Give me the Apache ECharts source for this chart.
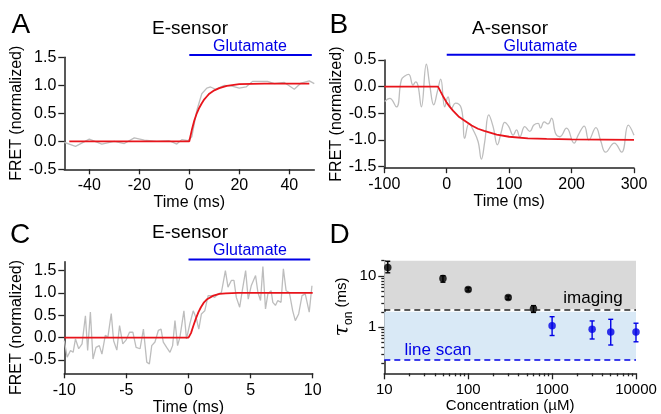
<!DOCTYPE html>
<html><head><meta charset="utf-8">
<script src="https://cdn.jsdelivr.net/npm/echarts@6/dist/echarts.min.js"></script>
<style>html,body{margin:0;padding:0;background:#fff}#c{width:661px;height:414px}</style>
</head><body><div id="c"></div>
<script>
// ---------------- Panel A (E-sensor, imaging) ----------------
const aTime = [-50,-45.5,-40,-35,-30,-26,-22,-18,-13,-8,-5,-3,-0.5,1,3,5,7,8.5,10.5,14,16.7,20,22.7,25.3,31.3,34,38,42,44.7,48,50];
const aVal  = [-0.02,-0.09,0.04,-0.05,0.0,-0.04,0.06,0.02,0.0,0.01,-0.05,0.03,0.01,0.08,0.55,0.85,0.95,0.97,0.93,1.0,0.99,0.95,0.97,1.07,1.07,1.03,1.05,0.93,1.04,1.08,1.03];
const aFitTime = [-48,0,1,2,3,4,5,6,7,8,10,12,15,20,30,48];
const aFitVal  = [0,0,0.2,0.37,0.5,0.6,0.68,0.75,0.8,0.85,0.91,0.95,0.99,1.02,1.03,1.03];
const aGlutTime = [0, 49];
const aXTicks = [-40,-20,0,20,40];
const aYTicks = [-0.5,0,0.5,1,1.5];

// ---------------- Panel B (A-sensor) ----------------
const bTime = [-99.4,-91.3,-80.6,-72.6,-67,-60.9,-53.9,-49.7,-46,-40.6,-32.6,-27.2,-20.8,-14.9,-9.6,-3.2,2.1,7.5,13.9,23.5,28.8,35.8,42.2,50.2,55.5,60.9,67.3,74.3,81.2,87.6,93,99.4,106.4,111.8,117.1,125.1,133.1,139.6,146.5,150.3,156.1,162.5,167.9,174.8,181.2,191.9,204.2,210.6,220.3,227.7,238.9,247,254.5,268.4,280.2,290.9,300];
const bVal  = [-0.28,-0.22,-0.38,0.13,0.2,0.23,0.03,0.09,0.02,-0.38,0.42,0.03,-0.34,-0.09,0.14,-0.38,-0.19,-0.41,-0.31,-0.41,-0.97,-0.69,-0.81,-1.03,-1.36,-1.03,-0.53,-0.75,-1.09,-0.84,-0.67,-0.75,-0.91,-0.81,-0.94,-0.75,-0.84,-0.72,-0.69,-0.78,-0.66,-0.7,-0.59,-0.89,-0.94,-0.78,-1.06,-0.91,-0.74,-1.0,-0.77,-1.03,-1.23,-1.06,-1.23,-0.72,-0.91];
const bFitTime = [-100,-14,-10,-5,0,5,10,20,30,40,50,60,80,100,130,160,200,300];
const bFitVal  = [0,0,-0.09,-0.2,-0.3,-0.38,-0.45,-0.57,-0.65,-0.73,-0.79,-0.83,-0.9,-0.94,-0.97,-0.98,-0.99,-1.0];
const bGlutTime = [0, 302];
const bXTicks = [-100,0,100,200,300];
const bYTicks = [-1.5,-1,-0.5,0,0.5];

// ---------------- Panel C (E-sensor, line scan) ----------------
const cTime = [-10.0,-9.77,-9.5,-9.29,-9.1,-8.84,-8.57,-8.3,-8.12,-7.9,-7.69,-7.45,-7.18,-6.97,-6.7,-6.49,-6.22,-6.03,-5.77,-5.55,-5.29,-5.02,-4.75,-4.48,-4.22,-3.9,-3.63,-3.36,-3.15,-2.96,-2.7,-2.43,-2.21,-2.03,-1.76,-1.49,-1.28,-1.09,-0.88,-0.69,-0.37,-0.16,0.11,0.38,0.64,0.83,1.04,1.31,1.58,1.85,2.11,2.38,2.65,2.97,3.18,3.45,3.66,3.85,4.12,4.33,4.6,4.81,5.05,5.4,5.59,5.8,5.99,6.2,6.39,6.65,6.79,7.0,7.19,7.45,7.64,7.86,8.12,8.39,8.6,8.87,9.14,9.4,9.72,9.94];
const cVal  = [-0.07,-0.44,-0.29,-0.33,-0.03,-0.25,-0.14,0.49,-0.29,0.57,-0.48,-0.22,-0.18,-0.37,0.05,0.01,0.54,-0.07,-0.28,0.27,-0.14,-0.05,0.12,0.12,-0.22,-0.25,0.19,-0.55,-0.59,-0.18,-0.1,0.16,0.19,-0.1,-0.22,-0.33,-0.18,0.38,-0.18,0.01,0.6,-0.03,0.31,0.6,0.42,0.19,0.53,0.6,0.94,0.94,0.9,0.98,1.01,1.5,1.13,1.28,1.28,0.9,0.68,1.05,1.5,0.86,1.16,1.39,1.01,0.83,1.59,0.64,0.98,1.05,0.79,0.72,0.83,0.79,1.54,1.05,1.01,0.6,0.38,0.53,0.94,0.98,0.57,1.16];
const cFitTime = [-10,0,0.2,0.4,0.6,0.8,1.0,1.25,1.5,2,2.5,3,4,10];
const cFitVal  = [0,0,0.1,0.27,0.43,0.57,0.68,0.79,0.86,0.94,0.98,0.99,1.0,1.0];
const cGlutTime = [0, 9.8];
const cXTicks = [-10,-5,0,5,10];
const cYTicks = [-0.5,0,0.5,1,1.5];

// ---------------- Panel D (tau_on vs concentration) ----------------
const imagingConc = [11, 50, 100, 300, 600];
const imagingTau  = [14.8, 9.0, 5.5, 3.8, 2.3];
const imagingLow  = [11.6, 7.6, 5.1, 3.5, 1.95];
const imagingHigh = [19.5, 10.2, 5.9, 4.1, 2.65];
const scanConc = [1000, 3000, 5000, 10000];
const scanTau  = [1.07, 0.91, 0.81, 0.81];
const scanLow  = [0.69, 0.59, 0.45, 0.52];
const scanHigh = [1.61, 1.33, 1.43, 1.2];
const imagingLimit = 2.24;     // dashed "imaging" limit (ms)
const lineScanTop = 2.0;       // top of line-scan band (ms)
const lineScanLimit = 0.23;    // dashed "line scan" limit (ms)
const dXRange = [10, 10000];
const dYRange = [0.126, 20];
const dXMajor = [10, 100, 1000, 10000];
const dXMinor = [20,30,40,50,60,70,80,90,200,300,400,500,600,700,800,900,2000,3000,4000,5000,6000,7000,8000,9000];
const dYMajor = [1, 10];
const dYMinor = [0.2,0.3,0.4,0.5,0.6,0.7,0.8,0.9,2,3,4,5,6,7,8,9,20];

// ---------------- chart ----------------
const FONT = '"Liberation Sans", Arial, Helvetica, sans-serif';
const BLUE = '#0000e6';
const RED = '#e8141b';
const GRAY = '#bdbdbd';
const AX = '#222';
const LG = v => Math.log10(v);
const zip = (xs, ys) => { const n = Math.min(xs.length, ys.length), o = []; for (let i = 0; i < n; i++) o.push([xs[i], ys[i]]); return o; };
const fix1 = v => v.toFixed(1);

function axis(gridIndex, min, max, ticks, fmt, o) {
  o = o || {};
  return {
    type: 'value', gridIndex, min, max, position: o.position,
    splitLine: { show: false },
    axisLine: { show: o.line !== false, onZero: false, lineStyle: { color: AX, width: 1.5 } },
    axisTick: { show: true, inside: false, length: o.tickLen || 5, customValues: ticks, lineStyle: { color: AX, width: 1.3 } },
    axisLabel: { show: o.labels !== false, color: '#000', fontSize: o.fontSize || 16, fontFamily: FONT, margin: o.margin || 8, customValues: ticks, formatter: fmt },
    name: o.name || '', nameLocation: 'middle', nameGap: o.nameGap || 20,
    nameTextStyle: Object.assign({ color: '#000', fontSize: o.nameSize || 16, fontFamily: FONT }, o.nameStyle || {})
  };
}

function errRender(color) {
  return function (params, api) {
    const x = api.value(0), lo = api.value(1), hi = api.value(2);
    const p1 = api.coord([x, lo]), p2 = api.coord([x, hi]);
    const w = 2.5, st = { stroke: color, lineWidth: 1.4 };
    return { type: 'group', children: [
      { type: 'line', shape: { x1: p1[0], y1: p1[1], x2: p2[0], y2: p2[1] }, style: st },
      { type: 'line', shape: { x1: p1[0] - w, y1: p1[1], x2: p1[0] + w, y2: p1[1] }, style: st },
      { type: 'line', shape: { x1: p2[0] - w, y1: p2[1], x2: p2[0] + w, y2: p2[1] }, style: st }
    ]};
  };
}

function txt(s, x, y, size, color, align, extra) {
  return { type: 'text', x, y, z: 100, silent: true, style: Object.assign({
    text: s, fontSize: size, fontFamily: FONT, fill: color,
    align: align, textAlign: align, verticalAlign: 'middle', textVerticalAlign: 'middle' }, extra || {}) };
}

const traceLine = (xi, data, color, width, smooth) => ({
  type: 'line', xAxisIndex: xi, yAxisIndex: xi, data, showSymbol: false, symbol: 'none',
  smooth: smooth || false, lineStyle: { color, width }, itemStyle: { color }, animation: false, clip: false, silent: true
});

const glutLevelA = 1.54, glutLevelB = 0.6, glutLevelC = 1.75;

const option = {
  animation: false,
  backgroundColor: '#fff',
  grid: [
    { left: 64.3, top: 57.3, width: 250, height: 112, containLabel: false, outerBoundsMode: 'none' },
    { left: 384.3, top: 60, width: 249.7, height: 108.2, containLabel: false, outerBoundsMode: 'none' },
    { left: 64.3, top: 261.7, width: 248.4, height: 111.6, containLabel: false, outerBoundsMode: 'none' },
    { left: 384.3, top: 260.7, width: 251.7, height: 112.6, containLabel: false, outerBoundsMode: 'none' }
  ],
  xAxis: [
    axis(0, -50, 50, aXTicks, v => String(v), { position: 'bottom', name: 'Time (ms)', nameGap: 22, tickLen: 5 }),
    axis(1, -100, 300, bXTicks, v => String(v), { position: 'bottom', name: 'Time (ms)', nameGap: 22, tickLen: 5 }),
    axis(2, -10, 10, cXTicks, v => String(v), { position: 'bottom', name: 'Time (ms)', nameGap: 23, tickLen: 5, margin: 9 }),
    axis(3, LG(dXRange[0]), LG(dXRange[1]), dXMajor.map(LG), v => String(Math.round(Math.pow(10, v))),
      { position: 'bottom', name: 'Concentration (µM)', nameGap: 23, nameSize: 15, fontSize: 15, tickLen: 6, margin: 9 }),
    axis(3, LG(dXRange[0]), LG(dXRange[1]), dXMinor.map(LG), v => '', { position: 'bottom', line: false, labels: false, tickLen: 3 })
  ],
  yAxis: [
    axis(0, -0.5, 1.5, aYTicks, fix1, { position: 'left', name: 'FRET (normalized)', nameGap: 38, tickLen: 6 }),
    axis(1, -1.53, 0.5, bYTicks, fix1, { position: 'left', name: 'FRET (normalized)', nameGap: 38, tickLen: 6 }),
    axis(2, -0.8, 1.7, cYTicks, fix1, { position: 'left', name: 'FRET (normalized)', nameGap: 38, tickLen: 6, nameStyle: { padding: [0, 20, 0, 0] } }),
    axis(3, LG(dYRange[0]), LG(dYRange[1]), dYMajor.map(LG), v => String(Math.round(Math.pow(10, v))),
      { position: 'left', name: '{t|τ}{s|on}{r| (ms)}', nameGap: 30, fontSize: 15, tickLen: 6,
        nameStyle: { padding: [0, 0, 0, 20], rich: {
          t: { fontSize: 21, fontStyle: 'italic', fontFamily: '"DejaVu Serif", serif', color: '#000', lineHeight: 24 },
          s: { fontSize: 12, fontFamily: FONT, color: '#000', lineHeight: 12, verticalAlign: 'bottom' },
          r: { fontSize: 15, fontFamily: FONT, color: '#000', lineHeight: 24 } } } }),
    axis(3, LG(dYRange[0]), LG(dYRange[1]), dYMinor.map(LG), v => '', { position: 'left', line: false, labels: false, tickLen: 3 })
  ],
  series: [
    traceLine(0, zip(aTime, aVal), GRAY, 1.3),
    traceLine(0, zip(aFitTime, aFitVal), RED, 1.8),
    traceLine(0, aGlutTime.map(t => [t, glutLevelA]), BLUE, 2),
    traceLine(1, zip(bTime, bVal), GRAY, 1.3, 0.45),
    traceLine(1, zip(bFitTime, bFitVal), RED, 1.8),
    traceLine(1, bGlutTime.map(t => [t, glutLevelB]), BLUE, 2),
    traceLine(2, zip(cTime, cVal), GRAY, 1.3),
    traceLine(2, zip(cFitTime, cFitVal), RED, 1.8),
    traceLine(2, cGlutTime.map(t => [t, glutLevelC]), BLUE, 2),
    {
      type: 'custom', xAxisIndex: 3, yAxisIndex: 3, renderItem: errRender('#000'), silent: true,
      encode: { x: 0, y: [1, 2] },
      data: imagingConc.map((c, i) => [LG(c), LG(imagingLow[i]), LG(imagingHigh[i])]),
      markArea: { silent: true, data: [
        [{ xAxis: LG(dXRange[0]), yAxis: LG(imagingLimit), itemStyle: { color: '#d9d9d9' } }, { xAxis: LG(dXRange[1]), yAxis: LG(dYRange[1]) }],
        [{ xAxis: LG(dXRange[0]), yAxis: LG(lineScanLimit), itemStyle: { color: '#d9e9f6' } }, { xAxis: LG(dXRange[1]), yAxis: LG(lineScanTop) }]
      ] },
      markLine: { silent: true, symbol: ['none', 'none'], label: { show: false }, data: [
        { yAxis: LG(imagingLimit), lineStyle: { color: '#222', type: [6, 4], width: 1.5 } },
        { yAxis: LG(lineScanLimit), lineStyle: { color: BLUE, type: [6, 4], width: 1.5 } }
      ] }
    },
    { type: 'custom', xAxisIndex: 3, yAxisIndex: 3, renderItem: errRender(BLUE), silent: true,
      encode: { x: 0, y: [1, 2] },
      data: scanConc.map((c, i) => [LG(c), LG(scanLow[i]), LG(scanHigh[i])]) },
    { type: 'scatter', xAxisIndex: 3, yAxisIndex: 3, symbol: 'circle', symbolSize: 7.5, silent: true,
      itemStyle: { color: '#000' }, data: zip(imagingConc.map(LG), imagingTau.map(LG)) },
    { type: 'scatter', xAxisIndex: 3, yAxisIndex: 3, symbol: 'circle', symbolSize: 7.5, silent: true,
      itemStyle: { color: BLUE }, data: zip(scanConc.map(LG), scanTau.map(LG)) }
  ],
  graphic: [
    txt('A', 11.5, 25, 28, '#000', 'left'),
    txt('B', 329.5, 25, 28, '#000', 'left'),
    txt('C', 10, 235, 28, '#000', 'left'),
    txt('D', 329.5, 235, 28, '#000', 'left'),
    txt('E-sensor', 190, 29, 19, '#000', 'center'),
    txt('A-sensor', 510, 29, 19, '#000', 'center'),
    txt('E-sensor', 190, 233, 19, '#000', 'center'),
    txt('Glutamate', 250, 47, 16, BLUE, 'center'),
    txt('Glutamate', 540.5, 47, 16, BLUE, 'center'),
    txt('Glutamate', 250, 250.5, 16, BLUE, 'center'),
    txt('imaging', 593, 298.5, 17, '#000', 'center'),
    txt('line scan', 438, 350, 17, BLUE, 'center')
  ]
};

const chart = echarts.init(document.getElementById('c'), null, { renderer: 'canvas' });
chart.setOption(option);
</script>
</body></html>
